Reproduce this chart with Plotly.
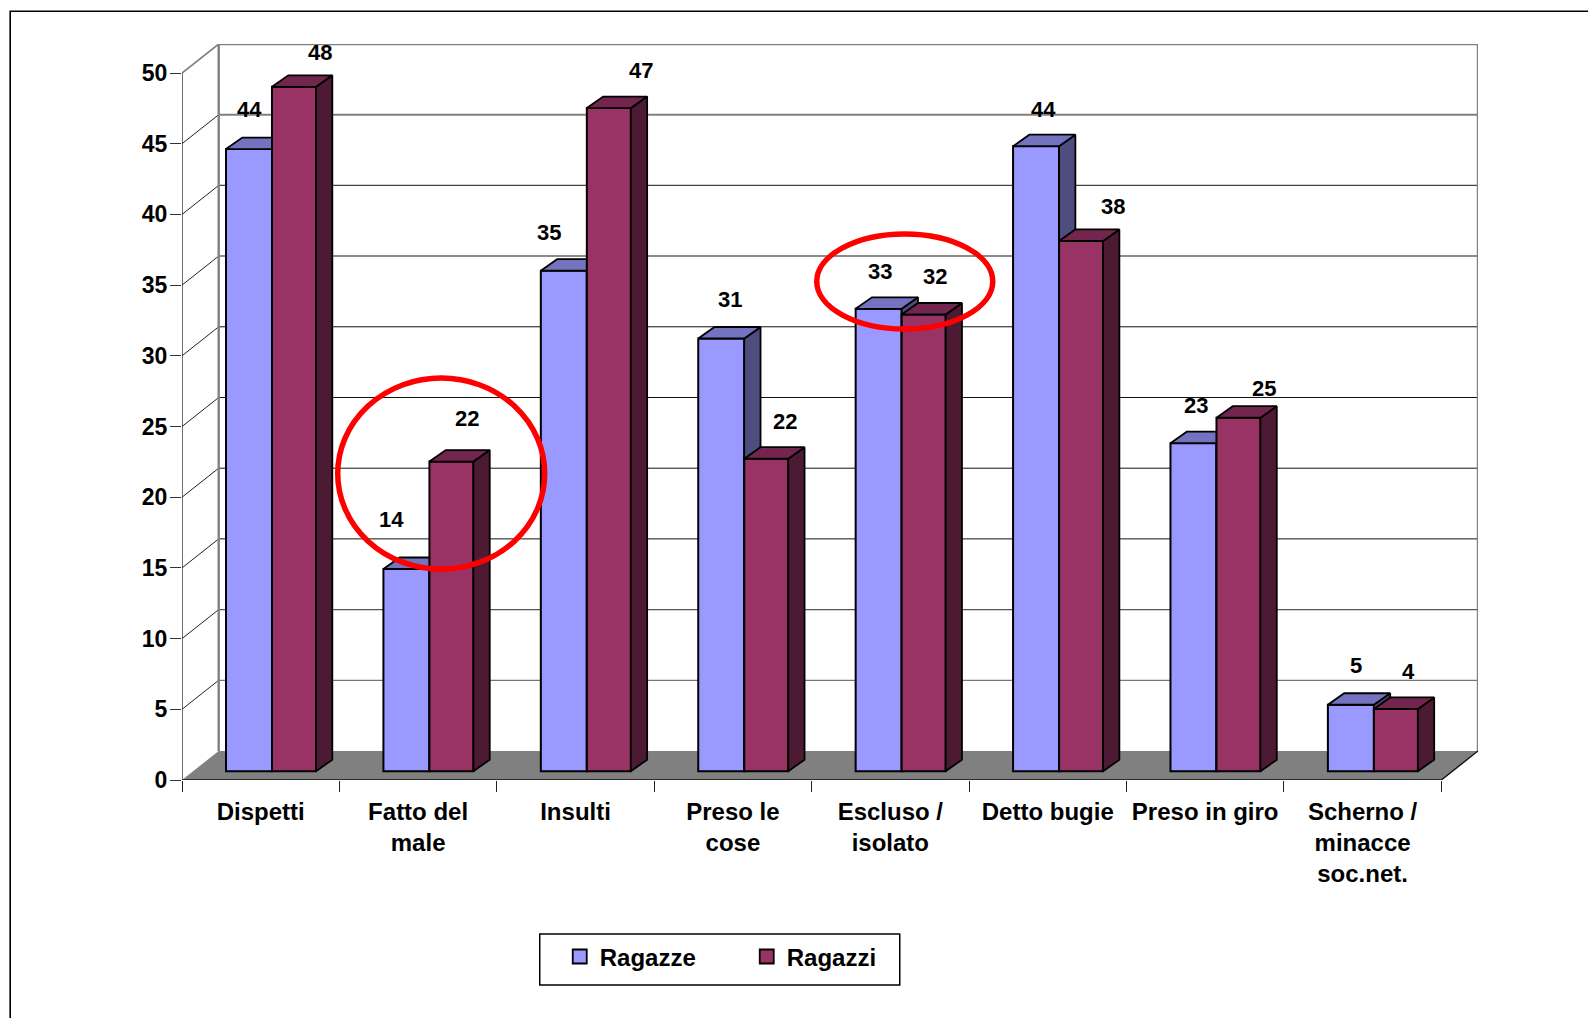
import plotly.graph_objects as go

# ---------- data ----------
CATEGORIES = ["Dispetti", "Fatto del<br>male", "Insulti", "Preso le<br>cose", "Escluso /<br>isolato",
              "Detto bugie", "Preso in giro", "Scherno /<br>minacce<br>soc.net."]
RAGAZZE = [44.0, 14.3, 35.4, 30.6, 32.7, 44.2, 23.2, 4.7]
RAGAZZI = [48.4, 21.9, 46.9, 22.1, 32.3, 37.5, 25.0, 4.4]
Y_TICKS = [0, 5, 10, 15, 20, 25, 30, 35, 40, 45, 50]

# ---------- geometry of the fake-3D projection (pixels of the 1588x1018 page) ----------
W, H = 1588, 1018
X0_PX, Y0_PX = 182.3, 779.7     # axis origin
CAT_PX, UNIT_PX = 157.4, 14.13  # px per category, px per value unit
WALL_DX, WALL_DY = 36.7 / CAT_PX, 29.0 / UNIT_PX
BAR_DX, BAR_DY = 16.3 / CAT_PX, 11.5 / UNIT_PX
BAR_BASE = 8.8 / UNIT_PX
N = len(CATEGORIES)
XMAX = N + WALL_DX
YMAX = 50 + WALL_DY
BLUE_L, BLUE_W = 44.0 / CAT_PX, 46.0 / CAT_PX
RED_L, RED_W = 90.0 / CAT_PX, 44.0 / CAT_PX
PLOT_W, PLOT_H = XMAX * CAT_PX, YMAX * UNIT_PX


def px_x(p):
    return (p - X0_PX) / CAT_PX


def px_y(p):
    return (Y0_PX - p) / UNIT_PX


def paper_x(p):
    return (p - X0_PX) / PLOT_W


def paper_y(p):
    return (Y0_PX - p) / PLOT_H


fig = go.Figure()

# ---------- floor ----------
fig.add_trace(go.Scatter(x=[0, WALL_DX, N + WALL_DX, N, 0], y=[0, WALL_DY, WALL_DY, 0, 0], mode="lines",
                         fill="toself", fillcolor="#808080", line=dict(width=0), hoverinfo="skip", showlegend=False))

# ---------- gridlines on walls ----------
GRID_STYLE = {50: ("#808080", 2.4), 45: ("#808080", 2.0), 40: ("#444444", 1.3), 35: ("#666666", 1.5), 30: ("#111111", 1.0),
              25: ("#111111", 1.0), 20: ("#111111", 1.0), 15: ("#111111", 1.0), 10: ("#555555", 1.3), 5: ("#777777", 1.3)}
for v in Y_TICKS[1:]:
    col, lw = GRID_STYLE[v]
    fig.add_trace(go.Scatter(x=[WALL_DX, N + WALL_DX], y=[v + WALL_DY] * 2, mode="lines", cliponaxis=False,
                             line=dict(color=col, width=lw), hoverinfo="skip", showlegend=False))
    diag = "#808080" if v == 50 else "#222222"
    fig.add_trace(go.Scatter(x=[0, WALL_DX], y=[v, v + WALL_DY], mode="lines", cliponaxis=False,
                             line=dict(color=diag, width=1.6 if v == 50 else 1), hoverinfo="skip", showlegend=False))
# back wall verticals
for xv in (WALL_DX, N + WALL_DX):
    fig.add_trace(go.Scatter(x=[xv, xv], y=[WALL_DY, 50 + WALL_DY], mode="lines", cliponaxis=False,
                             line=dict(color="#808080", width=2.4), hoverinfo="skip", showlegend=False))
# axis lines
fig.add_trace(go.Scatter(x=[0, 0], y=[0, 50], mode="lines", line=dict(color="#222222", width=1.3),
                         hoverinfo="skip", showlegend=False, cliponaxis=False))
fig.add_trace(go.Scatter(x=[0, N, N + WALL_DX], y=[0, 0, WALL_DY], mode="lines", line=dict(color="#111111", width=1.4),
                         hoverinfo="skip", showlegend=False, cliponaxis=False))


def series(vals, left, width, front, top, side, xa, ya):
    centers = [i + left + width / 2 for i in range(N)]
    fig.add_trace(go.Bar(x=centers, y=vals, base=[BAR_BASE] * N, width=width,
                         marker=dict(color=front, line=dict(color="black", width=2)),
                         xaxis=xa, yaxis=ya, showlegend=False, hoverinfo="y"))
    tx, ty, sx, sy = [], [], [], []
    for i, v in enumerate(vals):
        xl, xr = i + left, i + left + width
        t = BAR_BASE + v
        tx += [xl, xr, xr + BAR_DX, xl + BAR_DX, xl, None]
        ty += [t, t, t + BAR_DY, t + BAR_DY, t, None]
        sx += [xr, xr + BAR_DX, xr + BAR_DX, xr, xr, None]
        sy += [BAR_BASE, BAR_BASE + BAR_DY, t + BAR_DY, t, BAR_BASE, None]
    for px, py, col in ((sx, sy, side), (tx, ty, top)):
        fig.add_trace(go.Scatter(x=px, y=py, mode="lines", fill="toself", fillcolor=col,
                                 line=dict(color="black", width=1.8), xaxis=xa, yaxis=ya,
                                 hoverinfo="skip", showlegend=False))


series(RAGAZZE, BLUE_L, BLUE_W, "#9999FF", "#7373BF", "#4D4D80", "x2", "y2")
series(RAGAZZI, RED_L, RED_W, "#993366", "#73264D", "#4D1A33", "x3", "y3")

# ---------- legend entries ----------
for name, col in (("Ragazze", "#9999FF"), ("Ragazzi", "#993366")):
    fig.add_trace(go.Scatter(x=[None], y=[None], mode="markers", name=name,
                             marker=dict(symbol="square", size=14, color=col, line=dict(color="black", width=1.8))))

# ---------- data labels (page positions of the label centres) ----------
LABEL_X = [250, 320, 392, 467, 549, 641, 730, 785, 880, 935, 1044, 1113, 1196, 1264, 1356, 1409]
LABEL_Y = [110, 53, 519, 418, 233, 71, 300, 421, 272, 277, 110, 207, 405, 388, 665, 671]
LABEL_VALUES = [v for pair in zip(RAGAZZE, RAGAZZI) for v in pair]
annotations = [dict(x=px_x(lx), y=px_y(ly), xref="x", yref="y", text=str(round(v)), showarrow=False,
                    xanchor="center", yanchor="middle",
                    font=dict(family="Liberation Sans", size=22, color="black", weight="bold"))
               for lx, ly, v in zip(LABEL_X, LABEL_Y, LABEL_VALUES)]


def shape_px(kind, x0, y0, x1, y1, **kw):
    return dict(type=kind, xref="paper", yref="paper", x0=paper_x(x0), x1=paper_x(x1),
                y0=paper_y(y0), y1=paper_y(y1), **kw)


shapes = [
    shape_px("rect", 10.5, 11.5, 1620, 1050, line=dict(color="black", width=1.6), layer="below"),
    shape_px("rect", 540, 933.5, 900, 984.5, line=dict(color="black", width=1.5), layer="below"),
    shape_px("circle", 338, 378, 545, 569, line=dict(color="#FF0000", width=5.5), layer="above"),
    shape_px("circle", 817, 234, 993, 329, line=dict(color="#FF0000", width=5.5), layer="above"),
]

fig.update_layout(
    width=W, height=H, autosize=False, paper_bgcolor="white", plot_bgcolor="rgba(0,0,0,0)",
    margin=dict(l=X0_PX, r=W - (X0_PX + PLOT_W), t=Y0_PX - PLOT_H, b=H - Y0_PX, pad=0),
    barmode="overlay",
    font=dict(family="Liberation Sans", color="black"),
    xaxis=dict(range=[0, XMAX], tickmode="array", tickvals=[i + 0.5 for i in range(N)], ticktext=CATEGORIES,
               tickangle=0, ticks="", showgrid=False, zeroline=False, showline=False,
               tickfont=dict(family="Liberation Sans", size=24, color="black", weight="bold"),
               ticklabelstandoff=15,
               minor=dict(tickmode="array", tickvals=list(range(N + 1)), ticks="outside", ticklen=11,
                          tickwidth=1.2, tickcolor="#222222", showgrid=False)),
    yaxis=dict(range=[0, YMAX], tickmode="array", tickvals=Y_TICKS, ticktext=[str(t) for t in Y_TICKS],
               ticks="outside", ticklen=11, tickwidth=1.4, tickcolor="#333333", showgrid=False, zeroline=False,
               showline=False, ticklabelstandoff=-2,
               tickfont=dict(family="Liberation Sans", size=23, color="black", weight="bold")),
    xaxis2=dict(range=[0, XMAX], overlaying="x", anchor="y2", visible=False),
    yaxis2=dict(range=[0, YMAX], overlaying="y", anchor="x2", visible=False),
    xaxis3=dict(range=[0, XMAX], overlaying="x", anchor="y3", visible=False),
    yaxis3=dict(range=[0, YMAX], overlaying="y", anchor="x3", visible=False),
    legend=dict(orientation="h", x=paper_x(560), xanchor="left", y=paper_y(934), yanchor="top",
                bgcolor="rgba(0,0,0,0)", borderwidth=0, entrywidth=142, entrywidthmode="pixels",
                font=dict(family="Liberation Sans", size=24, color="black", weight="bold"),
                itemsizing="trace"),
    annotations=annotations, shapes=shapes,
)

fig.write_html("out.html", config={"displayModeBar": False},
               post_script="document.body.style.margin='0';document.documentElement.style.overflow='hidden';")
